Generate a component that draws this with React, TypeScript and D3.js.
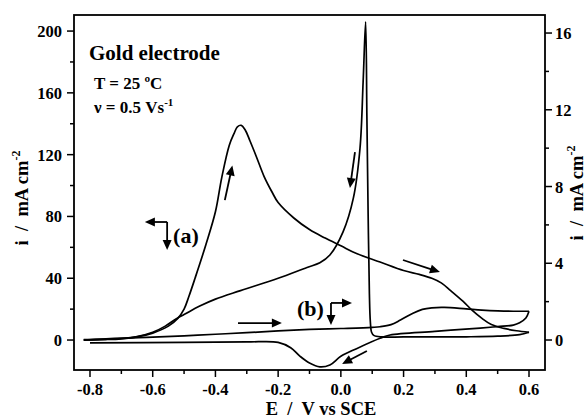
import React from "react"
import * as d3 from "d3"

// forward (anodic) scan, curve (a), left axis, mA cm-2
const fwdAE = [-0.82, -0.75, -0.7, -0.65, -0.6, -0.55, -0.52, -0.5, -0.485, -0.465, -0.43, -0.4, -0.38, -0.356, -0.34, -0.33, -0.318, -0.305, -0.29, -0.27, -0.245, -0.22, -0.2, -0.15, -0.1, -0.05, 0.0, 0.05, 0.125, 0.2, 0.25, 0.29, 0.32, 0.35, 0.39, 0.42, 0.45, 0.48, 0.52, 0.56, 0.6]
const fwdAI = [0, 0.3, 0.8, 2, 4.5, 9, 14, 20, 28, 40, 62, 83, 105, 126, 134, 138, 139, 136, 129, 119, 106, 96, 89, 79, 71.5, 66, 61, 56, 50.5, 45, 42.5, 40, 37, 32, 25, 19, 14, 10, 7.5, 6, 5]

// reverse (cathodic) scan, curve (a)
const revAE = [0.6, 0.57, 0.5, 0.4, 0.2, 0.13, 0.105, 0.098, 0.094, 0.091, 0.087, 0.083, 0.079, 0.071, 0.061, 0.04, 0.007, -0.035, -0.067, -0.108, -0.2, -0.32, -0.4, -0.45, -0.5, -0.523, -0.56, -0.6, -0.65, -0.7, -0.8, -0.82]
const revAI = [5, 3.5, 2.5, 2.1, 2, 2, 3, 5, 12, 30, 81, 145, 206, 167, 124, 92, 70, 55, 50, 47, 40, 32, 26.5, 22, 16.5, 14, 9, 5, 2.2, 1, 0.3, 0.2]

// curve (b), right axis, mA cm-2
const fwdBE = [-0.82, -0.7, -0.6, -0.5, -0.4, -0.3, -0.2, -0.1, 0.0, 0.1, 0.125, 0.16, 0.19, 0.23, 0.26, 0.29, 0.33, 0.4, 0.45, 0.5, 0.55, 0.6]
const fwdBI = [0.0, 0.1, 0.15, 0.22, 0.3, 0.38, 0.48, 0.55, 0.6, 0.66, 0.69, 0.8, 1.04, 1.4, 1.6, 1.68, 1.7, 1.62, 1.56, 1.52, 1.5, 1.5]
const revBE = [0.6, 0.59, 0.57, 0.55, 0.5, 0.444, 0.3, 0.157, 0.125, 0.05, 0.0, -0.035, -0.067, -0.1, -0.13, -0.16, -0.2, -0.3, -0.5, -0.8]
const revBI = [1.5, 1.15, 0.9, 0.78, 0.7, 0.62, 0.45, 0.26, 0.09, -0.45, -0.85, -1.3, -1.4, -1.2, -0.85, -0.4, -0.12, -0.1, -0.12, -0.15]

const xTicks = [-0.8, -0.6, -0.4, -0.2, 0.0, 0.2, 0.4, 0.6]
const xMinor = [-0.7, -0.5, -0.3, -0.1, 0.1, 0.3, 0.5]
const yLTicks = [0, 40, 80, 120, 160, 200]
const yLMinor = [20, 60, 100, 140, 180]
const yRTicks = [0, 4, 8, 12, 16]
const yRMinor = [2, 6, 10, 14]

// scan direction arrows [E0, i0, E1, i1] in left-axis units
const scanArrows = [
  [-0.37, 90.6, -0.346, 113],
  [0.045, 121.7, 0.029, 98.4],
  [0.198, 51.8, 0.316, 44],
  [-0.328, 11, -0.188, 11],
  [0.083, -7.1, 0.004, -15.5],
  // legend arrows
  [-0.554, 76.4, -0.625, 76.4],
  [-0.554, 76.4, -0.554, 58.3],
  [-0.0315, 24, 0.0355, 24],
  [-0.0315, 24, -0.0315, 9.7],
]

const FONT = "'Liberation Serif', 'Times New Roman', serif"
const SP = "\u00a0"

const left = 74, right = 545, top = 15, bottom = 370

const x = d3.scaleLinear().domain([-0.851, 0.651]).range([left, right])
const yL = d3.scaleLinear().domain([-19.4, 210.4]).range([bottom, top])
const yR = d3.scaleLinear().domain([-1.563, 16.94]).range([bottom, top])

const zip = (a: number[], b: number[]) => a.map((v, i) => [v, b[i]] as [number, number])

const Arrow = ({ x0, y0, x1, y1 }: { x0: number; y0: number; x1: number; y1: number }) => {
  const len = 10, hw = 4.5
  const dx = x1 - x0, dy = y1 - y0
  const d = Math.hypot(dx, dy)
  const ux = dx / d, uy = dy / d
  const bx = x1 - ux * len, by = y1 - uy * len
  const pts = [
    [x1, y1],
    [bx - uy * hw, by + ux * hw],
    [bx + uy * hw, by - ux * hw],
  ]
  return (
    <g>
      <line x1={x0} y1={y0} x2={bx + ux} y2={by + uy} stroke="#000" strokeWidth={1.8} />
      <polygon points={pts.map(p => p.join(",")).join(" ")} fill="#000" />
    </g>
  )
}

export default function App() {
  const lineL = d3.line<[number, number]>()
    .x(d => x(d[0]))
    .y(d => yL(d[1]))
    .curve(d3.curveCatmullRom.alpha(0.5))
  const lineR = d3.line<[number, number]>()
    .x(d => x(d[0]))
    .y(d => yR(d[1]))
    .curve(d3.curveCatmullRom.alpha(0.5))

  const tickStyle = { fontFamily: FONT, fontWeight: "bold" as const, fontSize: 16.5 }
  const yTitle = `i${SP}${SP}/${SP}${SP}mA cm`

  return (
    <svg width={588} height={418} style={{ position: "absolute", left: 0, top: 0, background: "#fff" }}>
      {/* curves */}
      <g fill="none" stroke="#000" strokeWidth={1.7} strokeLinejoin="round">
        <path d={lineL(zip(fwdAE, fwdAI)) || ""} />
        <path d={lineL(zip(revAE, revAI)) || ""} />
        <path d={lineR(zip(fwdBE, fwdBI)) || ""} />
        <path d={lineR(zip(revBE, revBI)) || ""} />
      </g>

      {/* frame */}
      <rect x={left} y={top} width={right - left} height={bottom - top} fill="none" stroke="#000" strokeWidth={1.8} />

      {/* ticks */}
      <g stroke="#000" strokeWidth={1.5}>
        {xTicks.map(t => <line key={t} x1={x(t)} x2={x(t)} y1={bottom} y2={bottom + 7} />)}
        {xMinor.map(t => <line key={t} x1={x(t)} x2={x(t)} y1={bottom} y2={bottom + 4} />)}
        {yLTicks.map(t => <line key={t} x1={left - 7} x2={left} y1={yL(t)} y2={yL(t)} />)}
        {yLMinor.map(t => <line key={t} x1={left - 4} x2={left} y1={yL(t)} y2={yL(t)} />)}
        {yRTicks.map(t => <line key={t} x1={right} x2={right + 7} y1={yR(t)} y2={yR(t)} />)}
        {yRMinor.map(t => <line key={t} x1={right} x2={right + 4} y1={yR(t)} y2={yR(t)} />)}
      </g>
      <g style={tickStyle}>
        {xTicks.map(t => (
          <text key={t} x={x(t)} y={bottom + 25} textAnchor="middle">{d3.format(".1f")(t).replace("−", "-")}</text>
        ))}
        {yLTicks.map(t => (
          <text key={t} x={left - 12} y={yL(t) + 6} textAnchor="end">{t}</text>
        ))}
        {yRTicks.map(t => (
          <text key={t} x={right + 10} y={yR(t) + 6} textAnchor="start">{t}</text>
        ))}
      </g>

      {/* axis titles */}
      <g style={{ fontFamily: FONT, fontWeight: "bold", fontSize: 18.5 }}>
        <text x={321} y={415} textAnchor="middle">{`E${SP}${SP}/${SP}${SP}V vs SCE`}</text>
        <text transform="translate(28,198) rotate(-90)" textAnchor="middle">
          {yTitle}<tspan dy={-8} fontSize={12}>-2</tspan>
        </text>
        <text transform="translate(583,193) rotate(-90)" textAnchor="middle">
          {yTitle}<tspan dy={-8} fontSize={12}>-2</tspan>
        </text>
      </g>

      {/* inset text */}
      <g style={{ fontFamily: FONT, fontWeight: "bold" }}>
        <text x={89} y={60} fontSize={21}>Gold electrode</text>
        <text x={94} y={89} fontSize={17}>T = 25 ºC</text>
        <text x={94} y={113} fontSize={17}>
          ν = 0.5 Vs<tspan dy={-7} fontSize={11}>-1</tspan>
        </text>
        <text x={x(-0.535)} y={yL(63)} fontSize={22}>(a)</text>
        <text x={x(-0.14)} y={yL(15.5)} fontSize={22}>(b)</text>
      </g>

      {scanArrows.map((a, i) => (
        <Arrow key={i} x0={x(a[0])} y0={yL(a[1])} x1={x(a[2])} y1={yL(a[3])} />
      ))}
    </svg>
  )
}
